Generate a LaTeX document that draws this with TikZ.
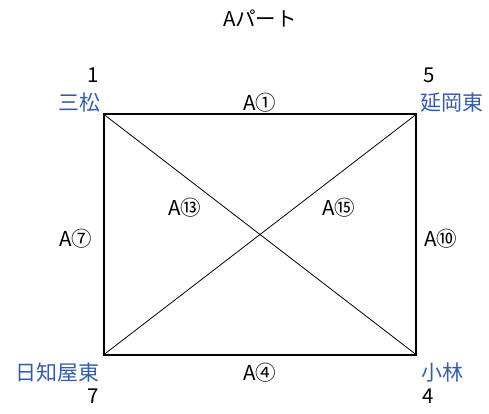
\documentclass[tikz,border=0pt]{standalone}
\usepackage{fontspec}
\setmainfont{Noto Sans CJK JP}
\definecolor{lblblue}{RGB}{52,92,168}
\begin{document}
\begin{tikzpicture}[x=1pt,y=-1pt,
  lbl/.style={inner sep=0pt,font=\fontsize{20.5}{24}\selectfont},
  blbl/.style={lbl,text=lblblue,font=\fontsize{21}{24}\selectfont},
  edge/.style={line width=2pt},
  diag/.style={line width=0.8pt}]
\useasboundingbox (0,0) rectangle (489,414);
\coordinate (tl) at (104,114.5);
\coordinate (tr) at (416,114.5);
\coordinate (bl) at (104,354.5);
\coordinate (br) at (416,354.5);
\draw[edge] (tl) -- (tr) -- (br) -- (bl) -- cycle;
\draw[diag] (tl) -- (br);
\draw[diag] (bl) -- (tr);
\node[lbl] (title) at (260,19) {Aパート};
\node[lbl] (n1) at (93,75) {1};
\node[blbl] (s1) at (79,103) {三松};
\node[lbl] (n5) at (429,75) {5};
\node[blbl] (s5) at (452,103) {延岡東};
\node[lbl] (e1) at (260,103) {A①};
\node[lbl] (e13) at (185,208) {A⑬};
\node[lbl] (e15) at (339,208) {A⑮};
\node[lbl] (e7) at (76,239) {A⑦};
\node[lbl] (e10) at (441,239) {A⑩};
\node[blbl] (s7) at (57,373) {日知屋東};
\node[lbl] (e4) at (260,373) {A④};
\node[blbl] (s4) at (442,373) {小林};
\node[lbl] (n7) at (93,396) {7};
\node[lbl] (n4) at (428,396) {4};
\end{tikzpicture}
\end{document}
